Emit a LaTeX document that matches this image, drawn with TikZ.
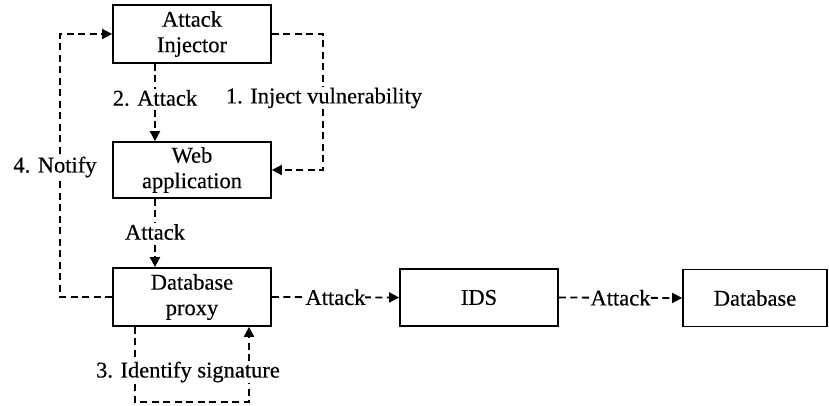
\documentclass[tikz,border=0pt]{standalone}
\usepackage{fontspec}
\setmainfont{Liberation Serif}
\newfontfamily\lbfont{Liberation Serif}[FakeBold=0.4]
\usetikzlibrary{arrows.meta}
\begin{document}
\begin{tikzpicture}[x=1pt,y=-1pt,
  box/.style={draw, line width=1.7pt, align=center, inner sep=0pt, font=\lbfont\fontsize{22.5}{25.5}\selectfont},
  conn/.style={line width=1.8pt, dash pattern=on 7pt off 4.5pt, -{Triangle[length=10pt,width=10pt]}},
  lbl/.style={fill=white, inner sep=1pt, font=\lbfont\fontsize{22.5}{25.5}\selectfont}]
\useasboundingbox (0,0) rectangle (829,406);
\node[box, minimum width=158pt, minimum height=58pt] (ai) at (192,34) {Attack\\Injector};
\node[box, minimum width=158pt, minimum height=56pt] (wa) at (192,170) {Web\\application};
\node[box, minimum width=158pt, minimum height=58pt] (dp) at (192,297) {Database\\proxy};
\node[box, minimum width=158pt, minimum height=57pt] (ids) at (479,297.5) {IDS};
\node[box, minimum width=144pt, minimum height=57pt] (db) at (755,298) {Database};
% 4. Notify
\coordinate (nl) at (60,297);
\draw[conn] (dp.west) -- (nl) |- (ai.west);
\node[lbl] (l4) at (55,167) {4. Notify};
% 1. Inject vulnerability
\coordinate (ir) at (323,34);
\draw[conn] (ai.east) -- (ir) |- (wa.east);
\node[lbl] (l1) at (324,98) {1. Inject vulnerability};
% 2. Attack
\draw[conn] ([xshift=-37pt]ai.south) -- ([xshift=-37pt]wa.north);
\node[lbl] (l2) at (155,98) {2. Attack};
% Attack WA -> DP
\draw[conn] ([xshift=-37pt]wa.south) -- ([xshift=-37pt]dp.north);
\node[lbl] (l5) at (155,232) {Attack};
% DP -> IDS
\draw[conn] (dp.east) -- (ids.west) node[lbl, midway, inner sep=0pt] (l6) {Attack};
% IDS -> DB
\draw[conn] (ids.east) -- (db.west) node[lbl, midway, inner sep=0pt] (l7) {Attack};
% 3. Identify signature
\coordinate (sb) at (135,402);
\draw[conn] ([xshift=-57pt]dp.south) -- (sb) -| ([xshift=57pt]dp.south);
\node[lbl] (l3) at (188,372) {3. Identify signature};
\end{tikzpicture}
\end{document}
